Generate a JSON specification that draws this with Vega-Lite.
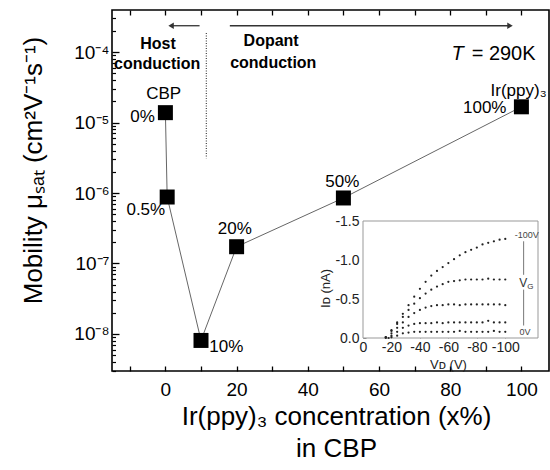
{
  "$schema": "https://vega.github.io/schema/vega-lite/v6.json",
  "width": 437,
  "height": 361,
  "autosize": {"type": "none"},
  "padding": {"left": 112, "top": 10, "right": 1, "bottom": 99},
  "background": "white",
  "config": {
    "font": "Liberation Sans",
    "view": {"stroke": "#000", "strokeWidth": 1.6},
    "axis": {"grid": false, "labelFont": "Liberation Sans", "titleFont": "Liberation Sans", "labelColor": "#000", "titleColor": "#000", "tickColor": "#000", "titleFontWeight": "normal", "labelFlush": false, "labelOverlap": false},
    "text": {"font": "Liberation Sans", "color": "#000"}
  },
  "datasets": {
    "main": [
      {"x": 0, "y": 1.38e-5},
      {"x": 0.5, "y": 8.77e-7},
      {"x": 10, "y": 8.1e-9},
      {"x": 20, "y": 1.73e-7},
      {"x": 50, "y": 8.5e-7},
      {"x": 100, "y": 1.67e-5}
    ],
    "labels": [
      {"x": -0.5, "y": 2.53e-5, "t": "CBP"},
      {"x": -6.4, "y": 1.18e-5, "t": "0%"},
      {"x": -5.5, "y": 5.74e-7, "t": "0.5%"},
      {"x": 17.1, "y": 6.6e-9, "t": "10%"},
      {"x": 19.5, "y": 3.05e-7, "t": "20%"},
      {"x": 49.7, "y": 1.43e-6, "t": "50%"},
      {"x": 99.2, "y": 2.8e-5, "t": "Ir(ppy)₃"},
      {"x": 89.7, "y": 1.63e-5, "t": "100%"}
    ],
    "bold": [
      {"x": -2.07, "y": 1.29e-4, "t": "Host"},
      {"x": -2.3, "y": 6.76e-5, "t": "conduction"},
      {"x": 29.7, "y": 1.44e-4, "t": "Dopant"},
      {"x": 30.3, "y": 7.1e-5, "t": "conduction"}
    ],
    "iv": [
      {"vd": -16, "id": -0.01, "g": "a"}, {"vd": -20, "id": -0.1, "g": "a"}, {"vd": -24, "id": -0.2, "g": "a"}, {"vd": -28, "id": -0.31, "g": "a"}, {"vd": -32, "id": -0.42, "g": "a"}, {"vd": -36, "id": -0.53, "g": "a"}, {"vd": -40, "id": -0.63, "g": "a"}, {"vd": -44, "id": -0.72, "g": "a"}, {"vd": -48, "id": -0.8, "g": "a"}, {"vd": -52, "id": -0.86, "g": "a"}, {"vd": -56, "id": -0.91, "g": "a"}, {"vd": -60, "id": -0.96, "g": "a"}, {"vd": -64, "id": -1.01, "g": "a"}, {"vd": -68, "id": -1.06, "g": "a"}, {"vd": -72, "id": -1.1, "g": "a"}, {"vd": -76, "id": -1.13, "g": "a"}, {"vd": -80, "id": -1.16, "g": "a"}, {"vd": -84, "id": -1.2, "g": "a"}, {"vd": -88, "id": -1.22, "g": "a"}, {"vd": -92, "id": -1.24, "g": "a"}, {"vd": -96, "id": -1.26, "g": "a"}, {"vd": -100, "id": -1.27, "g": "a"},
      {"vd": -16, "id": -0.01, "g": "b"}, {"vd": -20, "id": -0.09, "g": "b"}, {"vd": -24, "id": -0.18, "g": "b"}, {"vd": -28, "id": -0.27, "g": "b"}, {"vd": -32, "id": -0.36, "g": "b"}, {"vd": -36, "id": -0.44, "g": "b"}, {"vd": -40, "id": -0.51, "g": "b"}, {"vd": -44, "id": -0.57, "g": "b"}, {"vd": -48, "id": -0.62, "g": "b"}, {"vd": -52, "id": -0.66, "g": "b"}, {"vd": -56, "id": -0.69, "g": "b"}, {"vd": -60, "id": -0.72, "g": "b"}, {"vd": -64, "id": -0.73, "g": "b"}, {"vd": -68, "id": -0.74, "g": "b"}, {"vd": -72, "id": -0.75, "g": "b"}, {"vd": -76, "id": -0.75, "g": "b"}, {"vd": -80, "id": -0.75, "g": "b"}, {"vd": -84, "id": -0.75, "g": "b"}, {"vd": -88, "id": -0.76, "g": "b"}, {"vd": -92, "id": -0.75, "g": "b"}, {"vd": -96, "id": -0.75, "g": "b"}, {"vd": -100, "id": -0.75, "g": "b"},
      {"vd": -16, "id": 0, "g": "c"}, {"vd": -20, "id": -0.06, "g": "c"}, {"vd": -24, "id": -0.13, "g": "c"}, {"vd": -28, "id": -0.2, "g": "c"}, {"vd": -32, "id": -0.27, "g": "c"}, {"vd": -36, "id": -0.32, "g": "c"}, {"vd": -40, "id": -0.36, "g": "c"}, {"vd": -44, "id": -0.39, "g": "c"}, {"vd": -48, "id": -0.41, "g": "c"}, {"vd": -52, "id": -0.42, "g": "c"}, {"vd": -56, "id": -0.42, "g": "c"}, {"vd": -60, "id": -0.43, "g": "c"}, {"vd": -64, "id": -0.43, "g": "c"}, {"vd": -68, "id": -0.42, "g": "c"}, {"vd": -72, "id": -0.43, "g": "c"}, {"vd": -76, "id": -0.43, "g": "c"}, {"vd": -80, "id": -0.43, "g": "c"}, {"vd": -84, "id": -0.43, "g": "c"}, {"vd": -88, "id": -0.43, "g": "c"}, {"vd": -92, "id": -0.43, "g": "c"}, {"vd": -96, "id": -0.43, "g": "c"}, {"vd": -100, "id": -0.42, "g": "c"},
      {"vd": -18, "id": 0, "g": "d"}, {"vd": -20, "id": -0.03, "g": "d"}, {"vd": -24, "id": -0.08, "g": "d"}, {"vd": -28, "id": -0.13, "g": "d"}, {"vd": -32, "id": -0.16, "g": "d"}, {"vd": -36, "id": -0.18, "g": "d"}, {"vd": -40, "id": -0.19, "g": "d"}, {"vd": -44, "id": -0.19, "g": "d"}, {"vd": -48, "id": -0.19, "g": "d"}, {"vd": -52, "id": -0.2, "g": "d"}, {"vd": -56, "id": -0.19, "g": "d"}, {"vd": -60, "id": -0.2, "g": "d"}, {"vd": -64, "id": -0.2, "g": "d"}, {"vd": -68, "id": -0.2, "g": "d"}, {"vd": -72, "id": -0.2, "g": "d"}, {"vd": -76, "id": -0.2, "g": "d"}, {"vd": -80, "id": -0.2, "g": "d"}, {"vd": -84, "id": -0.2, "g": "d"}, {"vd": -88, "id": -0.22, "g": "d"}, {"vd": -92, "id": -0.2, "g": "d"}, {"vd": -96, "id": -0.2, "g": "d"}, {"vd": -100, "id": -0.2, "g": "d"},
      {"vd": -20, "id": -0.01, "g": "e"}, {"vd": -24, "id": -0.03, "g": "e"}, {"vd": -28, "id": -0.06, "g": "e"}, {"vd": -32, "id": -0.07, "g": "e"}, {"vd": -36, "id": -0.08, "g": "e"}, {"vd": -40, "id": -0.08, "g": "e"}, {"vd": -44, "id": -0.08, "g": "e"}, {"vd": -48, "id": -0.08, "g": "e"}, {"vd": -52, "id": -0.08, "g": "e"}, {"vd": -56, "id": -0.08, "g": "e"}, {"vd": -60, "id": -0.08, "g": "e"}, {"vd": -64, "id": -0.08, "g": "e"}, {"vd": -68, "id": -0.09, "g": "e"}, {"vd": -72, "id": -0.08, "g": "e"}, {"vd": -76, "id": -0.08, "g": "e"}, {"vd": -80, "id": -0.08, "g": "e"}, {"vd": -84, "id": -0.08, "g": "e"}, {"vd": -88, "id": -0.08, "g": "e"}, {"vd": -92, "id": -0.09, "g": "e"}, {"vd": -96, "id": -0.08, "g": "e"}, {"vd": -100, "id": -0.08, "g": "e"}
    ]
  },
  "layer": [
    {
      "data": {"name": "main"},
      "mark": {"type": "line", "color": "#666", "strokeWidth": 1},
      "encoding": {
        "x": {
          "field": "x", "type": "quantitative",
          "scale": {"domain": [-15, 107.75], "nice": false, "zero": false},
          "axis": {
            "orient": "bottom",
            "values": [-10, 0, 10, 20, 30, 40, 50, 60, 70, 80, 90, 100],
            "labelExpr": "datum.value % 20 == 0 ? datum.label : ''",
            "tickSize": -5,
            "tickWidth": 1.3,
            "domain": false,
            "labelFontSize": 19,
            "labelPadding": 14,
            "title": ["Ir(ppy)₃ concentration (x%)", "in CBP"],
            "titleFontSize": 26,
            "titleLineHeight": 32,
            "titleX": 224,
            "titleY": 53,
            "titleBaseline": "alphabetic"
          }
        },
        "y": {
          "field": "y", "type": "quantitative",
          "scale": {"type": "log", "domain": [2.985e-9, 3.945e-4], "nice": false},
          "axis": {
            "orient": "left",
            "values": [1e-8, 1e-7, 1e-6, 1e-5, 1e-4],
            "labelExpr": "datum.value > 9e-5 ? '10⁻⁴' : datum.value > 9e-6 ? '10⁻⁵' : datum.value > 9e-7 ? '10⁻⁶' : datum.value > 9e-8 ? '10⁻⁷' : '10⁻⁸'",
            "tickSize": -7,
            "tickWidth": 1.3,
            "domain": false,
            "labelFontSize": 19,
            "labelPadding": 10,
            "title": "Mobility μₛₐₜ (cm²V⁻¹s⁻¹)",
            "titleFontSize": 26,
            "titleX": -71,
            "titleY": 160,
            "titleBaseline": "alphabetic",
            "titleAngle": -90
          }
        }
      }
    },
    {
      "data": {"name": "main"},
      "mark": {"type": "point", "opacity": 0},
      "encoding": {
        "x": {
          "field": "x", "type": "quantitative",
          "scale": {"domain": [-15, 107.75], "nice": false, "zero": false},
          "axis": {
            "orient": "top",
            "values": [-10, 0, 10, 20, 30, 40, 50, 60, 70, 80, 90, 100],
            "labels": false,
            "tickSize": -5,
            "tickWidth": 1.3,
            "domain": false,
            "title": null
          }
        },
        "y": {
          "field": "y", "type": "quantitative",
          "scale": {"type": "log", "domain": [2.985e-9, 3.945e-4], "nice": false},
          "axis": {
            "orient": "left",
            "values": [3e-9, 4e-9, 5e-9, 6e-9, 7e-9, 8e-9, 9e-9, 2e-8, 3e-8, 4e-8, 5e-8, 6e-8, 7e-8, 8e-8, 9e-8, 2e-7, 3e-7, 4e-7, 5e-7, 6e-7, 7e-7, 8e-7, 9e-7, 2e-6, 3e-6, 4e-6, 5e-6, 6e-6, 7e-6, 8e-6, 9e-6, 2e-5, 3e-5, 4e-5, 5e-5, 6e-5, 7e-5, 8e-5, 9e-5, 2e-4, 3e-4],
            "labels": false,
            "tickSize": -3.5,
            "tickWidth": 1.2,
            "domain": false,
            "title": null
          }
        }
      }
    },
    {
      "data": {"name": "main"},
      "mark": {"type": "point", "shape": "square", "filled": true, "size": 225, "color": "#000", "opacity": 1},
      "encoding": {
        "x": {"field": "x", "type": "quantitative", "scale": {"domain": [-15, 107.75], "nice": false, "zero": false}, "axis": null},
        "y": {"field": "y", "type": "quantitative", "scale": {"type": "log", "domain": [2.985e-9, 3.945e-4], "nice": false}, "axis": null}
      }
    },
    {
      "data": {"name": "labels"},
      "mark": {"type": "text", "fontSize": 17, "align": "center", "baseline": "middle"},
      "encoding": {
        "x": {"field": "x", "type": "quantitative", "scale": {"domain": [-15, 107.75], "nice": false, "zero": false}, "axis": null},
        "y": {"field": "y", "type": "quantitative", "scale": {"type": "log", "domain": [2.985e-9, 3.945e-4], "nice": false}, "axis": null},
        "text": {"field": "t"}
      }
    },
    {
      "data": {"name": "bold"},
      "mark": {"type": "text", "fontSize": 16, "fontWeight": "bold", "align": "center", "baseline": "middle"},
      "encoding": {
        "x": {"field": "x", "type": "quantitative", "scale": {"domain": [-15, 107.75], "nice": false, "zero": false}, "axis": null},
        "y": {"field": "y", "type": "quantitative", "scale": {"type": "log", "domain": [2.985e-9, 3.945e-4], "nice": false}, "axis": null},
        "text": {"field": "t"}
      }
    },
    {
      "data": {"values": [{"x": 82.1, "y": 9.46e-5, "t": "T"}]},
      "mark": {"type": "text", "fontSize": 20, "fontStyle": "italic", "align": "center", "baseline": "middle"},
      "encoding": {
        "x": {"field": "x", "type": "quantitative", "scale": {"domain": [-15, 107.75], "nice": false, "zero": false}, "axis": null},
        "y": {"field": "y", "type": "quantitative", "scale": {"type": "log", "domain": [2.985e-9, 3.945e-4], "nice": false}, "axis": null},
        "text": {"field": "t"}
      }
    },
    {
      "data": {"values": [{"x": 95.0, "y": 9.46e-5, "t": "= 290K"}]},
      "mark": {"type": "text", "fontSize": 20, "align": "center", "baseline": "middle"},
      "encoding": {
        "x": {"field": "x", "type": "quantitative", "scale": {"domain": [-15, 107.75], "nice": false, "zero": false}, "axis": null},
        "y": {"field": "y", "type": "quantitative", "scale": {"type": "log", "domain": [2.985e-9, 3.945e-4], "nice": false}, "axis": null},
        "text": {"field": "t"}
      }
    },
    {
      "data": {"values": [{"x": 11.5, "y": 1.86e-4, "y2": 3.1e-6}]},
      "mark": {"type": "rule", "color": "#444", "strokeWidth": 1.2, "strokeDash": [1, 1.5]},
      "encoding": {
        "x": {"field": "x", "type": "quantitative", "scale": {"domain": [-15, 107.75], "nice": false, "zero": false}, "axis": null},
        "y": {"field": "y", "type": "quantitative", "scale": {"type": "log", "domain": [2.985e-9, 3.945e-4], "nice": false}, "axis": null},
        "y2": {"field": "y2"}
      }
    },
    {
      "data": {"values": [{"x": 9.6, "x2": 1.5, "y": 2.36e-4}, {"x": 18.1, "x2": 96.8, "y": 2.36e-4}]},
      "mark": {"type": "rule", "color": "#333", "strokeWidth": 1.3},
      "encoding": {
        "x": {"field": "x", "type": "quantitative", "scale": {"domain": [-15, 107.75], "nice": false, "zero": false}, "axis": null},
        "x2": {"field": "x2"},
        "y": {"field": "y", "type": "quantitative", "scale": {"type": "log", "domain": [2.985e-9, 3.945e-4], "nice": false}, "axis": null}
      }
    },
    {
      "data": {"values": [{"x": 1.6, "y": 2.36e-4}]},
      "mark": {"type": "point", "shape": "triangle-left", "filled": true, "size": 40, "color": "#333", "opacity": 1},
      "encoding": {
        "x": {"field": "x", "type": "quantitative", "scale": {"domain": [-15, 107.75], "nice": false, "zero": false}, "axis": null},
        "y": {"field": "y", "type": "quantitative", "scale": {"type": "log", "domain": [2.985e-9, 3.945e-4], "nice": false}, "axis": null}
      }
    },
    {
      "data": {"values": [{"x": 96.8, "y": 2.36e-4}]},
      "mark": {"type": "point", "shape": "triangle-right", "filled": true, "size": 40, "color": "#333", "opacity": 1},
      "encoding": {
        "x": {"field": "x", "type": "quantitative", "scale": {"domain": [-15, 107.75], "nice": false, "zero": false}, "axis": null},
        "y": {"field": "y", "type": "quantitative", "scale": {"type": "log", "domain": [2.985e-9, 3.945e-4], "nice": false}, "axis": null}
      }
    },
    {
      "data": {"values": [{"x0": 0, "x1": -123, "y0": 0, "y1": -1.5}]},
      "mark": {"type": "rect", "fill": "white", "stroke": "#999", "strokeWidth": 1},
      "encoding": {
        "x": {
          "field": "x0", "type": "quantitative",
          "scale": {"domain": [0, -123], "range": [251, 426], "nice": false, "zero": false},
          "axis": {
            "orient": "bottom", "offset": -33,
            "values": [0, -20, -40, -60, -80, -100],
            "labelExpr": "toString(datum.value)",
            "domain": false, "tickSize": -3, "tickColor": "#888",
            "labelFontSize": 14, "labelColor": "#222", "labelPadding": 5,
            "title": "Vᴅ (V)", "titleFontSize": 13, "titleColor": "#222",
            "titleX": 336, "titleY": 30, "titleBaseline": "alphabetic"
          }
        },
        "x2": {"field": "x1"},
        "y": {
          "field": "y0", "type": "quantitative",
          "scale": {"domain": [0, -1.5], "range": [328, 211], "nice": false, "zero": false},
          "axis": {
            "orient": "left", "offset": -251,
            "values": [0, -0.5, -1, -1.5],
            "labelExpr": "datum.value == 0 ? '0.0' : '-' + format(-datum.value, '.1f')",
            "domain": false, "tickSize": -3, "tickColor": "#888",
            "labelFontSize": 14, "labelColor": "#222", "labelPadding": 7,
            "title": "Iᴅ (nA)", "titleFontSize": 13, "titleColor": "#222",
            "titleX": -34, "titleY": 278, "titleBaseline": "alphabetic", "titleAngle": -90
          }
        },
        "y2": {"field": "y1"}
      }
    },
    {
      "data": {"name": "iv"},
      "mark": {"type": "point", "shape": "circle", "filled": true, "size": 5, "color": "#222", "opacity": 1},
      "encoding": {
        "x": {"field": "vd", "type": "quantitative", "scale": {"domain": [0, -123], "range": [251, 426], "nice": false, "zero": false}, "axis": null},
        "y": {"field": "id", "type": "quantitative", "scale": {"domain": [0, -1.5], "range": [328, 211], "nice": false, "zero": false}, "axis": null}
      }
    },
    {
      "data": {"values": [{"vd": -112.9, "id": -1.24, "id2": -0.81}, {"vd": -112.9, "id": -0.62, "id2": -0.16}]},
      "mark": {"type": "rule", "color": "#777", "strokeWidth": 1},
      "encoding": {
        "x": {"field": "vd", "type": "quantitative", "scale": {"domain": [0, -123], "range": [251, 426], "nice": false, "zero": false}, "axis": null},
        "y": {"field": "id", "type": "quantitative", "scale": {"domain": [0, -1.5], "range": [328, 211], "nice": false, "zero": false}, "axis": null},
        "y2": {"field": "id2"}
      }
    },
    {
      "data": {"values": [{"vd": -115.1, "id": -1.315, "t": "-100V"}, {"vd": -113.9, "id": -0.074, "t": "0V"}]},
      "mark": {"type": "text", "fontSize": 9, "color": "#444", "align": "center", "baseline": "middle"},
      "encoding": {
        "x": {"field": "vd", "type": "quantitative", "scale": {"domain": [0, -123], "range": [251, 426], "nice": false, "zero": false}, "axis": null},
        "y": {"field": "id", "type": "quantitative", "scale": {"domain": [0, -1.5], "range": [328, 211], "nice": false, "zero": false}, "axis": null},
        "text": {"field": "t"}
      }
    },
    {
      "data": {"values": [{"vd": -112.7, "id": -0.7, "t": "V"}]},
      "mark": {"type": "text", "fontSize": 12, "color": "#333", "align": "center", "baseline": "middle"},
      "encoding": {
        "x": {"field": "vd", "type": "quantitative", "scale": {"domain": [0, -123], "range": [251, 426], "nice": false, "zero": false}, "axis": null},
        "y": {"field": "id", "type": "quantitative", "scale": {"domain": [0, -1.5], "range": [328, 211], "nice": false, "zero": false}, "axis": null},
        "text": {"field": "t"}
      }
    },
    {
      "data": {"values": [{"vd": -117.7, "id": -0.66, "t": "G"}]},
      "mark": {"type": "text", "fontSize": 8, "color": "#333", "align": "center", "baseline": "middle"},
      "encoding": {
        "x": {"field": "vd", "type": "quantitative", "scale": {"domain": [0, -123], "range": [251, 426], "nice": false, "zero": false}, "axis": null},
        "y": {"field": "id", "type": "quantitative", "scale": {"domain": [0, -1.5], "range": [328, 211], "nice": false, "zero": false}, "axis": null},
        "text": {"field": "t"}
      }
    }
  ],
  "resolve": {"scale": {"x": "independent", "y": "independent"}}
}
